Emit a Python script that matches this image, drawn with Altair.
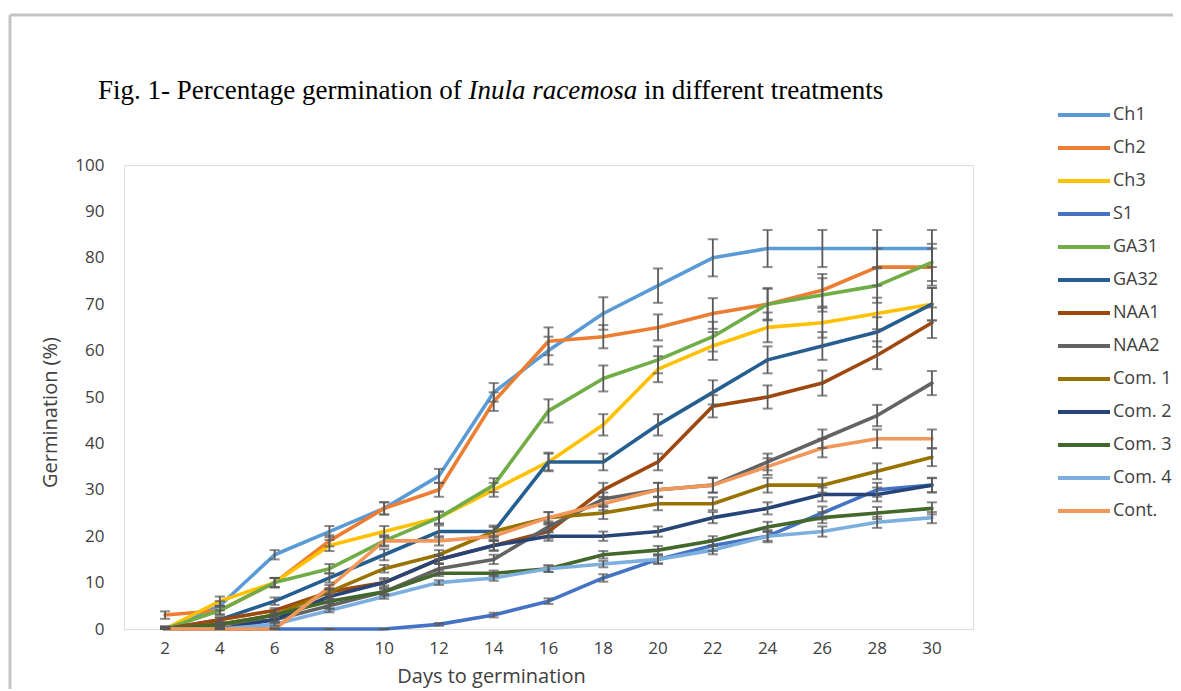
import altair as alt
import pandas as pd

days = ["2", "4", "6", "8", "10", "12", "14", "16", "18", "20", "22", "24", "26", "28", "30"]

series_names = ["Ch1", "Ch2", "Ch3", "S1", "GA31", "GA32", "NAA1", "NAA2",
                "Com. 1", "Com. 2", "Com. 3", "Com. 4", "Cont."]
series_colors = ["#5B9BD5", "#ED7D31", "#FFC000", "#4472C4", "#70AD47", "#255E91",
                 "#9E480E", "#636363", "#997300", "#264478", "#43682B", "#7CAFDD", "#F1975A"]

ch1 = [0, 5, 16, 21, 26, 33, 51, 60, 68, 74, 80, 82, 82, 82, 82]
ch2 = [3, 4, 10, 19, 26, 30, 49, 62, 63, 65, 68, 70, 73, 78, 78]
ch3 = [0, 6, 10, 18, 21, 24, 30, 36, 44, 56, 61, 65, 66, 68, 70]
s1 = [0, 0, 0, 0, 0, 1, 3, 6, 11, 15, 18, 20, 25, 30, 31]
ga31 = [0, 4, 10, 13, 19, 24, 31, 47, 54, 58, 63, 70, 72, 74, 79]
ga32 = [0, 2, 6, 11, 16, 21, 21, 36, 36, 44, 51, 58, 61, 64, 70]
naa1 = [0, 2, 4, 8, 10, 15, 18, 21, 30, 36, 48, 50, 53, 59, 66]
naa2 = [0, 1, 2, 5, 8, 13, 15, 22, 28, 30, 31, 36, 41, 46, 53]
com1 = [0, 1, 3, 8, 13, 16, 21, 24, 25, 27, 27, 31, 31, 34, 37]
com2 = [0, 0, 2, 7, 10, 15, 18, 20, 20, 21, 24, 26, 29, 29, 31]
com3 = [0, 1, 3, 6, 8, 12, 12, 13, 16, 17, 19, 22, 24, 25, 26]
com4 = [0, 0, 1, 4, 7, 10, 11, 13, 14, 15, 17, 20, 21, 23, 24]
cont = [0, 0, 0, 9, 19, 19, 20, 24, 27, 30, 31, 35, 39, 41, 41]

err_ch1 = [0.5, 1, 1, 1.2, 1.3, 1.5, 2, 3, 3.5, 3.7, 4, 4, 4, 4, 4]
err_ch2 = [0.8, 1, 1, 1.2, 1.3, 1.5, 2, 3, 2.5, 2.8, 3.3, 3.3, 3.5, 4, 4]
err_ch3 = [0.5, 1, 1, 1.2, 1.2, 1.3, 1.5, 2, 2.3, 2.8, 3, 3.2, 3.2, 3.4, 3.5]
err_s1 = [0, 0, 0, 0, 0, 0.3, 0.5, 0.6, 0.8, 1, 1.2, 1.3, 1.4, 1.5, 1.5]
err_ga31 = [0.5, 0.8, 1, 1, 1.2, 1.3, 1.5, 2.5, 2.8, 2.9, 3.2, 3.5, 3.6, 3.7, 4]
err_ga32 = [0.5, 0.5, 0.8, 1, 1.2, 1.3, 1.3, 1.8, 1.8, 2.3, 2.6, 2.9, 3, 3.2, 3.5]
err_naa1 = [0.3, 0.5, 0.5, 0.8, 1, 1, 1.2, 1.5, 1.5, 1.8, 2.4, 2.5, 2.7, 3, 3.3]
err_naa2 = [0.3, 0.3, 0.5, 0.6, 0.8, 1, 1, 1.2, 1.4, 1.5, 1.6, 1.8, 2, 2.3, 2.6]
err_com1 = [0.3, 0.3, 0.5, 0.6, 0.8, 1, 1, 1.2, 1.3, 1.4, 1.4, 1.6, 1.6, 1.7, 1.9]
err_com2 = [0.3, 0.3, 0.4, 0.5, 0.6, 0.8, 1, 1, 1, 1.1, 1.2, 1.3, 1.5, 1.5, 1.6]
err_com3 = [0.3, 0.3, 0.4, 0.5, 0.5, 0.6, 0.6, 0.7, 0.8, 0.9, 1, 1.1, 1.2, 1.3, 1.3]
err_com4 = [0.3, 0.3, 0.3, 0.4, 0.5, 0.5, 0.6, 0.7, 0.7, 0.8, 0.9, 1, 1.1, 1.2, 1.2]
err_cont = [0.3, 0.3, 0.3, 0.5, 1, 1, 1, 1.2, 1.4, 1.5, 1.6, 1.8, 2, 2, 2]

values = [ch1, ch2, ch3, s1, ga31, ga32, naa1, naa2, com1, com2, com3, com4, cont]
errors = [err_ch1, err_ch2, err_ch3, err_s1, err_ga31, err_ga32, err_naa1, err_naa2,
          err_com1, err_com2, err_com3, err_com4, err_cont]

title_part1 = "Fig. 1- Percentage germination of"
title_part2 = "Inula racemosa"
title_part3 = "in different treatments"

rows = []
for si, (name, vals, errs) in enumerate(zip(series_names, values, errors)):
    for d, v, e in zip(days, vals, errs):
        rows.append({"series": name, "day": d, "value": v,
                     "lo": max(v - e, 0), "hi": v + e, "idx": si})
df = pd.DataFrame(rows)

FONT = "Open Sans"
TXT = "#404040"

x_enc = alt.X("day:O", sort=days, scale=alt.Scale(padding=0.5),
              axis=alt.Axis(title="Days to germination", labelAngle=0, ticks=False, domain=False,
                            labelFont=FONT, labelFontSize=17, labelColor=TXT, labelPadding=11,
                            titleFont=FONT, titleFontSize=20, titleColor=TXT, titleFontWeight="normal",
                            titleX=367, titleY=47, titleBaseline="middle"))
y_enc = alt.Y("value:Q", scale=alt.Scale(domain=[0, 100]),
              axis=alt.Axis(title="Germination (%)", values=list(range(0, 101, 10)), grid=False,
                            ticks=False, domain=False, labelFont=FONT, labelFontSize=17,
                            labelColor=TXT, labelPadding=20,
                            titleFont=FONT, titleFontSize=20, titleColor=TXT, titleFontWeight="normal",
                            titleX=-74, titleY=247, titleBaseline="middle", titleAngle=-90))

lines = alt.Chart(df).mark_line(strokeWidth=3.6, strokeJoin="round", strokeCap="round").encode(
    x=x_enc, y=y_enc,
    color=alt.Color("series:N", sort=series_names,
                    scale=alt.Scale(domain=series_names, range=series_colors),
                    legend=alt.Legend(title=None, orient="none", legendX=932, legendY=-58,
                                      symbolType="stroke", symbolSize=2704, symbolStrokeWidth=4,
                                      labelFont=FONT, labelFontSize=18, labelColor=TXT,
                                      labelOffset=1, clipHeight=16, rowPadding=15)),
    order=alt.Order("idx:Q"),
)

ebar = alt.Chart(df).mark_rule(color="#595959", strokeWidth=1.8).encode(
    x=alt.X("day:O", sort=days), y=alt.Y("lo:Q"), y2="hi:Q")
cap_lo = alt.Chart(df).mark_tick(color="#595959", orient="horizontal", size=10, thickness=2).encode(
    x=alt.X("day:O", sort=days), y=alt.Y("lo:Q"))
cap_hi = alt.Chart(df).mark_tick(color="#595959", orient="horizontal", size=10, thickness=2).encode(
    x=alt.X("day:O", sort=days), y=alt.Y("hi:Q"))

TFS = 27
TX = -26
w1 = 13.72 * TFS
w2 = 6.249 * TFS
wsp = 0.25 * TFS
t1 = alt.Chart(pd.DataFrame({"t": [title_part1]})).mark_text(
    font="Liberation Serif", fontSize=TFS, align="left", baseline="alphabetic", color="black"
).encode(x=alt.value(TX), y=alt.value(-66), text="t:N")
t2 = alt.Chart(pd.DataFrame({"t": [title_part2]})).mark_text(
    font="Liberation Serif", fontSize=TFS, fontStyle="italic", align="left", baseline="alphabetic", color="black"
).encode(x=alt.value(TX + w1), y=alt.value(-66), text="t:N")
t3 = alt.Chart(pd.DataFrame({"t": [title_part3]})).mark_text(
    font="Liberation Serif", fontSize=TFS, align="left", baseline="alphabetic", color="black"
).encode(x=alt.value(TX + w1 + w2 + wsp), y=alt.value(-66), text="t:N")

border_top = alt.Chart(pd.DataFrame({"a": [0]})).mark_rule(color="#c4c4c4", strokeWidth=3).encode(
    x=alt.value(-114), x2=alt.value(1100), y=alt.value(-150))
border_left = alt.Chart(pd.DataFrame({"a": [0]})).mark_rule(color="#c4c4c4", strokeWidth=3).encode(
    x=alt.value(-114), y=alt.value(-150), y2=alt.value(560))

chart = alt.layer(border_top, border_left, lines, ebar, cap_lo, cap_hi, t1, t2, t3).properties(
    width=849, height=464,
    autosize=alt.AutoSizeParams(type="none"),
    padding={"left": 116, "top": 157, "right": 200, "bottom": 60},
).configure_view(stroke="#d0d0d0", strokeWidth=3).configure(background="white")

chart.save("out.html", embed_options={"renderer": "svg", "actions": False})
